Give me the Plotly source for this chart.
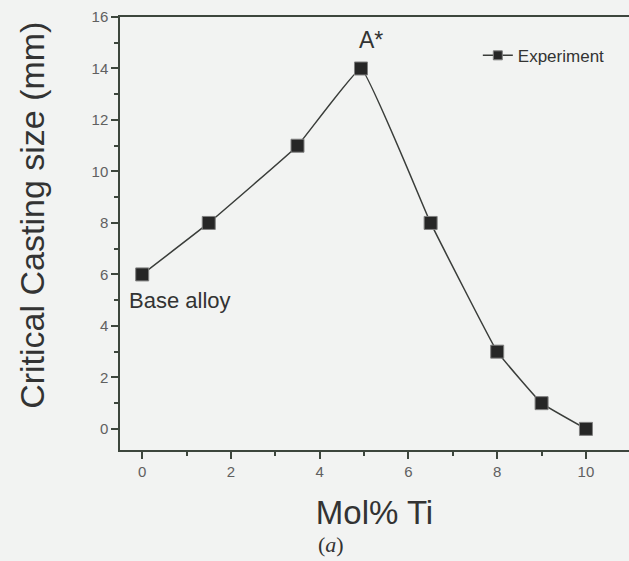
import plotly.graph_objects as go

mol_ti = [0, 1.5, 3.5, 4.93, 6.5, 8, 9, 10]
casting_size = [6, 8, 11, 14, 8, 3, 1, 0]
series_name = "Experiment"

bg = "#f2f3f2"
axis_col = "#3d463d"
sans = "Liberation Sans, Arial, sans-serif"
tick_font = dict(family=sans, size=15, color="#606060")

fig = go.Figure()
fig.add_trace(go.Scatter(
    x=mol_ti, y=casting_size, name=series_name, mode="lines+markers", showlegend=False,
    line=dict(color="#3a3d3a", width=1.5, shape="spline", smoothing=0.25),
    marker=dict(symbol="square", size=13, color="#262626", line=dict(color="#808080", width=1)),
))
# legend entry with smaller symbol, like the reference key
fig.add_trace(go.Scatter(
    x=[None], y=[None], name=series_name, mode="lines+markers", showlegend=True,
    line=dict(color="#3a3d3a", width=1.5),
    marker=dict(symbol="square", size=9, color="#262626", line=dict(color="#808080", width=1)),
))

fig.add_annotation(x=4.93, y=14, text="A*", showarrow=False, yshift=28, xshift=10,
                   font=dict(family=sans, size=23, color="#333333"))
fig.add_annotation(x=0, y=6, text="Base alloy", showarrow=False, xanchor="left", yshift=-26, xshift=-15,
                   font=dict(family=sans, size=22, color="#333333"))
fig.add_annotation(xref="paper", yref="paper", x=0.415, y=-0.219, text="(<i>a</i>)", showarrow=False,
                   xanchor="center", yanchor="middle",
                   font=dict(family="Liberation Serif, Times New Roman, serif", size=22, color="#333333"))
fig.add_annotation(xref="paper", yref="paper", x=-0.173, y=0.543, text="Critical Casting size (mm)",
                   showarrow=False, textangle=-90, xanchor="center", yanchor="middle",
                   font=dict(family=sans, size=34, color="#333333"))

fig.update_layout(
    width=629, height=561,
    margin=dict(l=120, r=0, t=17, b=111),
    paper_bgcolor=bg, plot_bgcolor=bg,
    showlegend=True,
    legend=dict(x=0.703, y=0.952, xanchor="left", yanchor="top", bgcolor="rgba(0,0,0,0)",
                font=dict(family=sans, size=17, color="#333333"),
                itemwidth=30),
    xaxis=dict(
        range=[-0.5, 10.97], tickmode="array", tickvals=[0, 2, 4, 6, 8, 10],
        ticks="outside", ticklen=7, tickwidth=1.5, tickcolor=axis_col,
        minor=dict(tickmode="array", tickvals=[1, 3, 5, 7, 9], ticks="outside", ticklen=4, tickwidth=1.5, tickcolor=axis_col),
        showline=True, linecolor=axis_col, linewidth=1.5, mirror=True,
        showgrid=False, zeroline=False, tickfont=tick_font,
        title=dict(text="Mol% Ti", font=dict(family=sans, size=33, color="#333333"), standoff=22),
    ),
    yaxis=dict(
        range=[-0.82, 16], tickmode="array", tickvals=[0, 2, 4, 6, 8, 10, 12, 14, 16],
        ticks="outside", ticklen=7, tickwidth=1.5, tickcolor=axis_col,
        minor=dict(tickmode="array", tickvals=[1, 3, 5, 7, 9, 11, 13, 15], ticks="outside", ticklen=4, tickwidth=1.5, tickcolor=axis_col),
        showline=True, linecolor=axis_col, linewidth=1.5,
        showgrid=False, zeroline=False, tickfont=tick_font,
    ),
)

fig.write_html("out.html", config={"displayModeBar": False},
               post_script="document.body.style.margin='0';document.body.style.background='%s';" % bg)
